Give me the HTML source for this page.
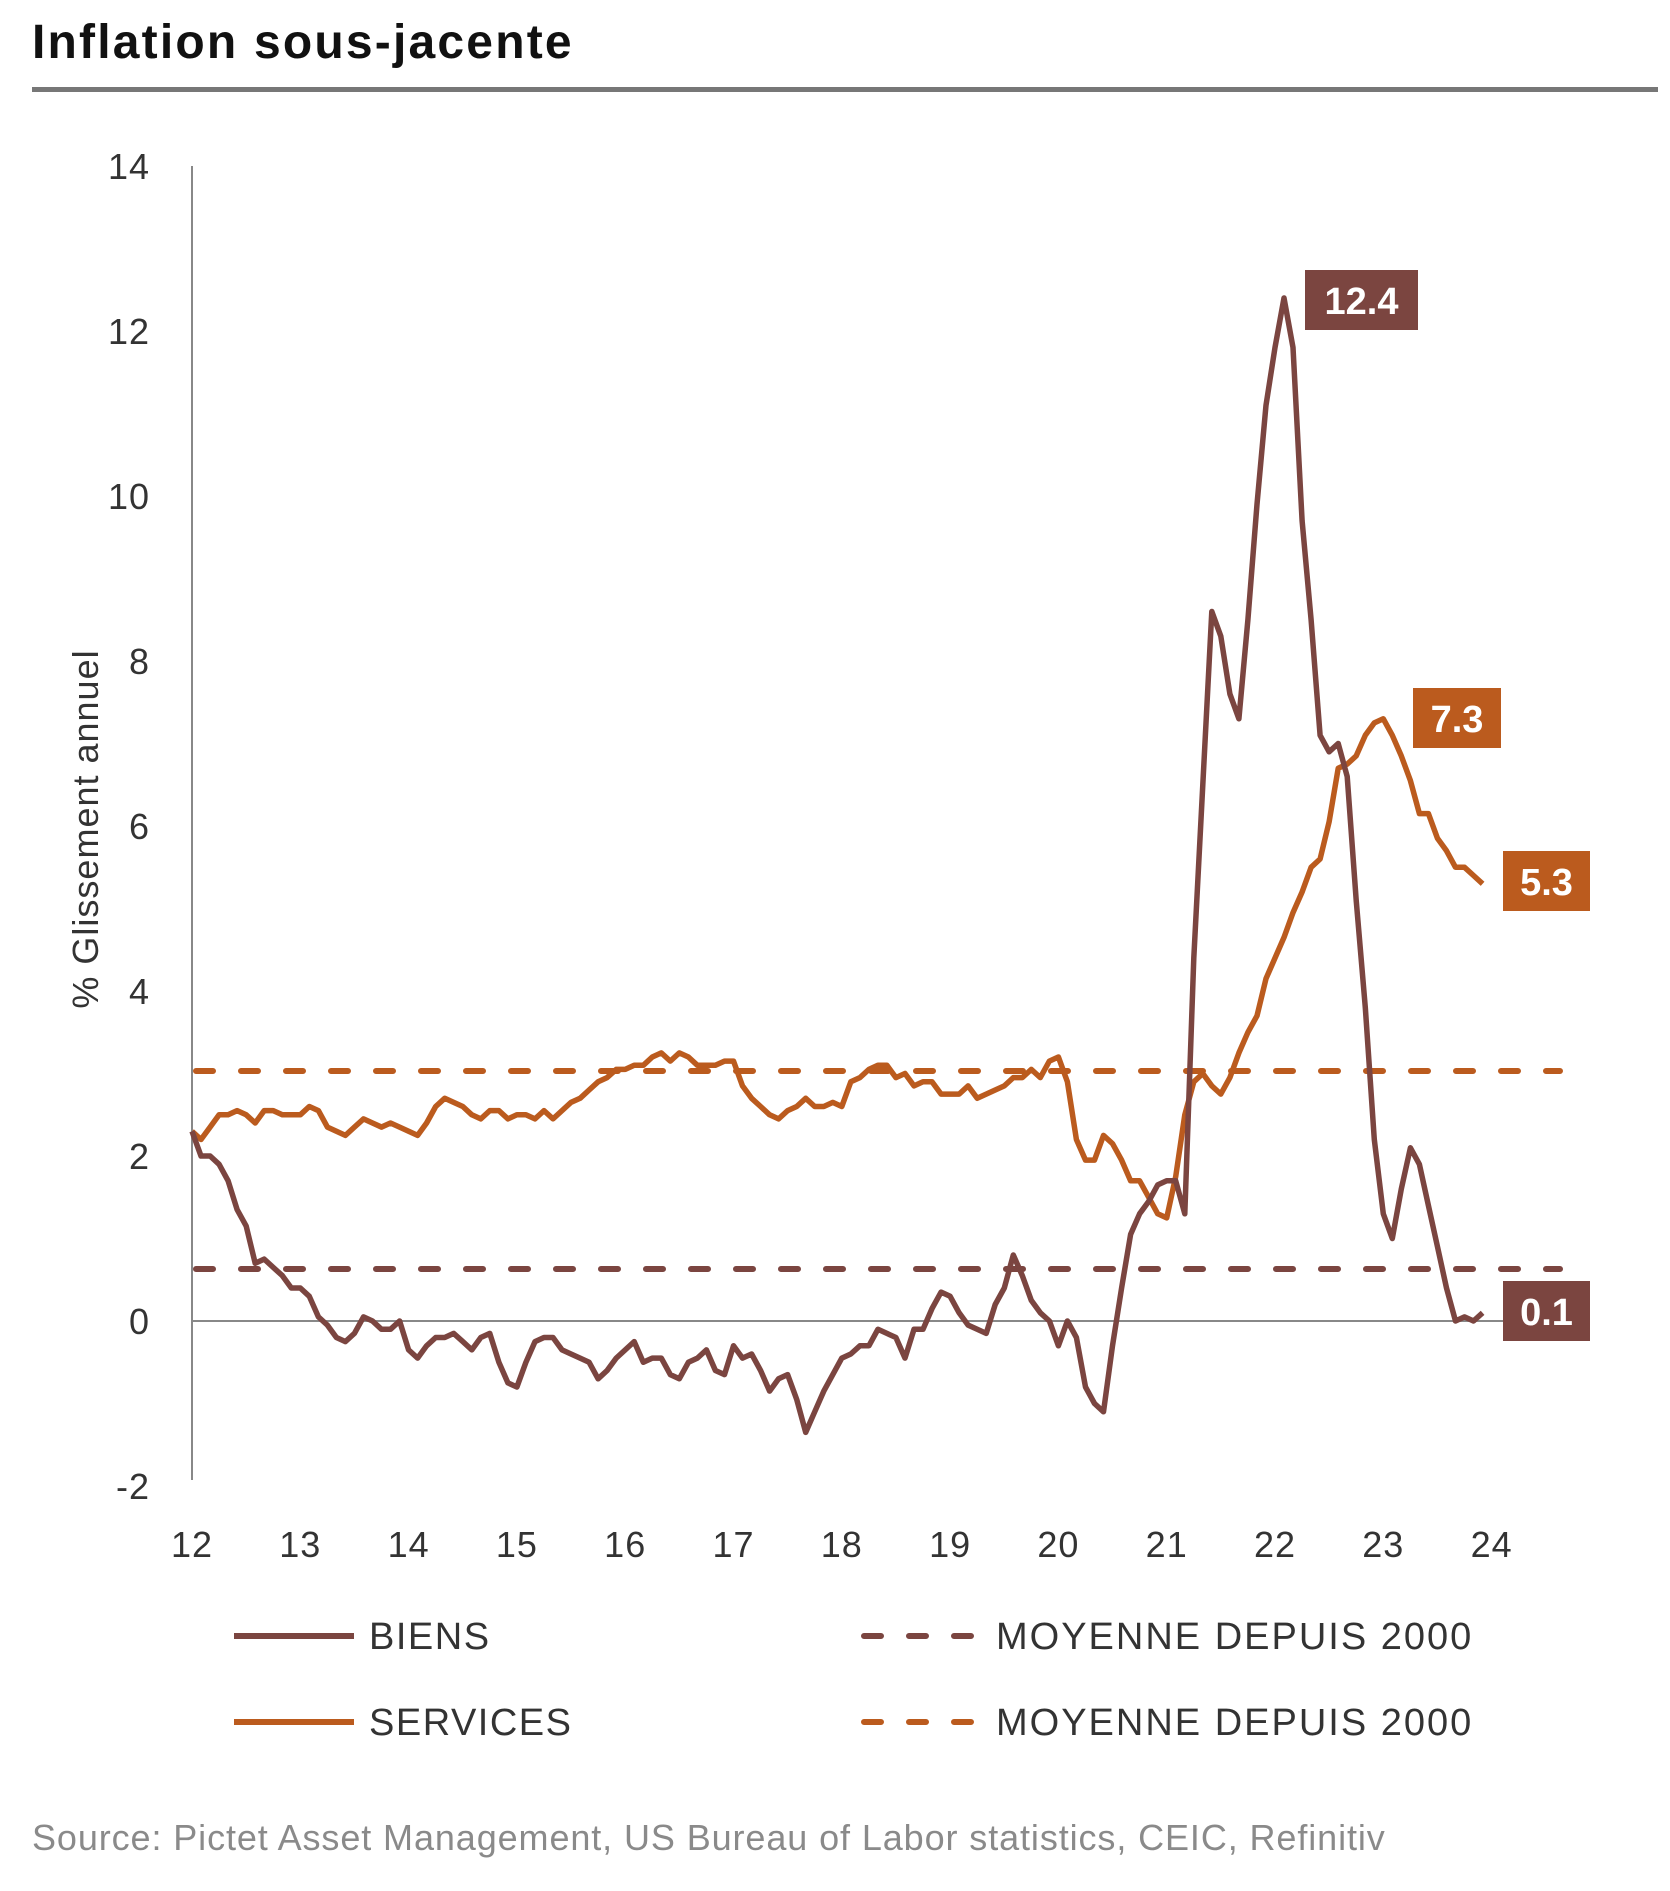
<!DOCTYPE html>
<html><head><meta charset="utf-8">
<style>
html,body{margin:0;padding:0;background:#fff;}
svg{display:block;font-family:"Liberation Sans",sans-serif;}
</style></head>
<body>
<svg id="chart" width="1670" height="1891" viewBox="0 0 1670 1891">
<text x="32" y="58" font-size="48" font-weight="bold" fill="#111" letter-spacing="2.2">Inflation sous-jacente</text>
<rect x="32" y="87" width="1626" height="5" fill="#777"/>
<g id="yticks"></g>
<g id="xticks"></g>
<text transform="translate(98,829) rotate(-90)" text-anchor="middle" font-size="36" fill="#333" letter-spacing="1">% Glissement annuel</text>
<line x1="192" y1="166" x2="192" y2="1480" stroke="#888" stroke-width="2"/>
<g id="plot"></g>
<g>
<line x1="234" y1="1636" x2="354" y2="1636" stroke="#7b4540" stroke-width="6"/>
<text x="369" y="1649" font-size="38" fill="#333" letter-spacing="1.5">BIENS</text>
<line x1="234" y1="1722" x2="354" y2="1722" stroke="#bb5b1e" stroke-width="6"/>
<text x="369" y="1735" font-size="38" fill="#333" letter-spacing="1.5">SERVICES</text>
<line x1="864" y1="1636" x2="979" y2="1636" stroke="#7b4540" stroke-width="6" stroke-dasharray="17 28" stroke-linecap="round"/>
<text x="996" y="1649" font-size="38" fill="#333" letter-spacing="2">MOYENNE DEPUIS 2000</text>
<line x1="864" y1="1722" x2="979" y2="1722" stroke="#bb5b1e" stroke-width="6" stroke-dasharray="17 28" stroke-linecap="round"/>
<text x="996" y="1735" font-size="38" fill="#333" letter-spacing="2">MOYENNE DEPUIS 2000</text>
</g>
<text x="32" y="1850" font-size="36" fill="#8a8a8a" letter-spacing="0.9">Source: Pictet Asset Management, US Bureau of Labor statistics, CEIC, Refinitiv</text>
</svg>
<script>
const yTicks=[14,12,10,8,6,4,2,0,-2];
const xTickLabels=["12","13","14","15","16","17","18","19","20","21","22","23","24"];
const biens=[2.3,2.0,2.0,1.9,1.7,1.35,1.15,0.7,0.75,0.65,0.55,0.4,
0.4,0.3,0.05,-0.05,-0.2,-0.25,-0.15,0.05,0.0,-0.1,-0.1,0.0,
-0.35,-0.45,-0.3,-0.2,-0.2,-0.15,-0.25,-0.35,-0.2,-0.15,-0.5,-0.75,
-0.8,-0.5,-0.25,-0.2,-0.2,-0.35,-0.4,-0.45,-0.5,-0.7,-0.6,-0.45,
-0.35,-0.25,-0.5,-0.45,-0.45,-0.65,-0.7,-0.5,-0.45,-0.35,-0.6,-0.65,
-0.3,-0.45,-0.4,-0.6,-0.85,-0.7,-0.65,-0.95,-1.35,-1.1,-0.85,-0.65,
-0.45,-0.4,-0.3,-0.3,-0.1,-0.15,-0.2,-0.45,-0.1,-0.1,0.15,0.35,
0.3,0.1,-0.05,-0.1,-0.15,0.2,0.4,0.8,0.55,0.25,0.1,0.0,
-0.3,0.0,-0.2,-0.8,-1.0,-1.1,-0.3,0.4,1.05,1.3,1.45,1.65,
1.7,1.7,1.3,4.4,6.5,8.6,8.3,7.6,7.3,8.5,9.9,11.1,
11.8,12.4,11.8,9.7,8.5,7.1,6.9,7.0,6.6,5.1,3.8,2.2,
1.3,1.0,1.6,2.1,1.9,1.4,0.9,0.4,0.0,0.05,0.0,0.1];
const services=[2.3,2.2,2.35,2.5,2.5,2.55,2.5,2.4,2.55,2.55,2.5,2.5,
2.5,2.6,2.55,2.35,2.3,2.25,2.35,2.45,2.4,2.35,2.4,2.35,
2.3,2.25,2.4,2.6,2.7,2.65,2.6,2.5,2.45,2.55,2.55,2.45,
2.5,2.5,2.45,2.55,2.45,2.55,2.65,2.7,2.8,2.9,2.95,3.05,
3.05,3.1,3.1,3.2,3.25,3.15,3.25,3.2,3.1,3.1,3.1,3.15,
3.15,2.85,2.7,2.6,2.5,2.45,2.55,2.6,2.7,2.6,2.6,2.65,
2.6,2.9,2.95,3.05,3.1,3.1,2.95,3.0,2.85,2.9,2.9,2.75,
2.75,2.75,2.85,2.7,2.75,2.8,2.85,2.95,2.95,3.05,2.95,3.15,
3.2,2.9,2.2,1.95,1.95,2.25,2.15,1.95,1.7,1.7,1.5,1.3,
1.25,1.75,2.5,2.9,3.0,2.85,2.75,2.95,3.25,3.5,3.7,4.15,
4.4,4.65,4.95,5.2,5.5,5.6,6.05,6.7,6.75,6.85,7.1,7.25,
7.3,7.1,6.85,6.55,6.15,6.15,5.85,5.7,5.5,5.5,5.4,5.3];
const averages=[0.63,3.03];
const callouts=[["12.4",12.4],["7.3",7.3],["5.3",5.3],["0.1",0.1]];

const NS="http://www.w3.org/2000/svg";
const X0=192, PX_YEAR=108.3, Y0=1321, PX_UNIT=82.5;
function xs(t){return X0+t*PX_YEAR;}
function ys(v){return Y0-v*PX_UNIT;}
function mk(tag,attrs,parent){const e=document.createElementNS(NS,tag);for(const k in attrs)e.setAttribute(k,attrs[k]);parent.appendChild(e);return e;}

const yg=document.getElementById('yticks');
yTicks.forEach(v=>{
  const t=mk('text',{x:150,y:ys(v)+13,'text-anchor':'end','font-size':36,fill:'#333','letter-spacing':1},yg);
  t.textContent=String(v);
  
  
});
const xg=document.getElementById('xticks');
xTickLabels.forEach((l,i)=>{
  const t=mk('text',{x:xs(i),y:1557,'text-anchor':'middle','font-size':36,fill:'#333','letter-spacing':1},xg);
  t.textContent=l;
  
  
});

const plot=document.getElementById('plot');
const zl=mk('line',{x1:192,x2:1560,y1:ys(0),y2:ys(0),stroke:'#888','stroke-width':2},plot);



const ab=mk('line',{x1:196,x2:1560,y1:ys(averages[0]),y2:ys(averages[0]),stroke:'#7b4540','stroke-width':6,'stroke-dasharray':'17 28','stroke-linecap':'round'},plot);


const as=mk('line',{x1:196,x2:1560,y1:ys(averages[1]),y2:ys(averages[1]),stroke:'#bb5b1e','stroke-width':6,'stroke-dasharray':'17 28','stroke-linecap':'round'},plot);



function pts(arr){return arr.map((v,i)=>xs(i/12).toFixed(1)+','+ys(v).toFixed(1)).join(' ');}
const ps=mk('polyline',{points:pts(services),fill:'none',stroke:'#bb5b1e','stroke-width':5.5,'stroke-linejoin':'round'},plot);


const pb=mk('polyline',{points:pts(biens),fill:'none',stroke:'#7b4540','stroke-width':5.5,'stroke-linejoin':'round'},plot);



const boxes=[[1305,270,113,'#7b4540'],[1413,688,88,'#bb5b1e'],[1503,851,87,'#bb5b1e'],[1503,1281,87,'#7b4540']];
callouts.forEach((c,i)=>{
  const b=boxes[i];
  const r=mk('rect',{x:b[0],y:b[1],width:b[2],height:60,fill:b[3]},plot);
  
  
  const t=mk('text',{x:b[0]+b[2]/2,y:b[1]+44,'text-anchor':'middle','font-size':38,'font-weight':'bold',fill:'#fff'},plot);
  t.textContent=c[0];
  
  
});
</script>
</body></html>
